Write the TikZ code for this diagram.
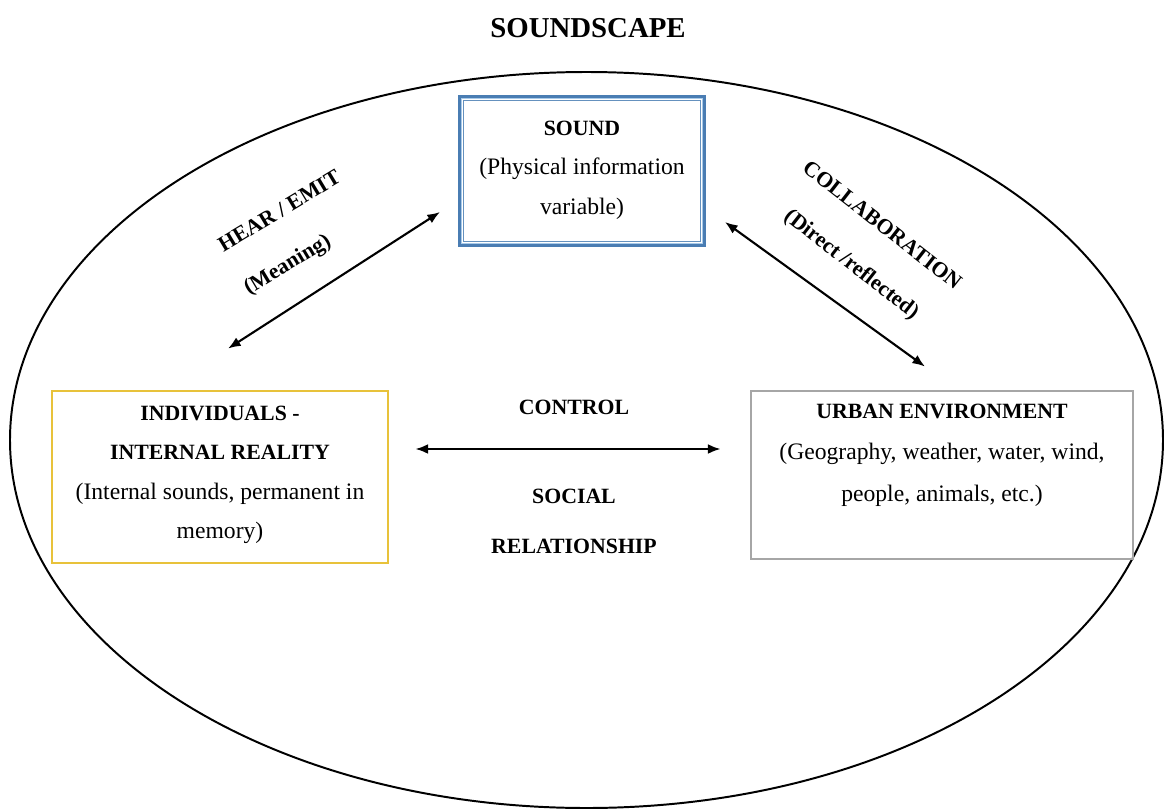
\documentclass[tikz,border=0pt]{standalone}
\usepackage{fontspec}
\setmainfont{Liberation Serif}
\usetikzlibrary{arrows.meta}

\definecolor{soundblue}{HTML}{4A7DB3}
\definecolor{soundpale}{HTML}{A9CBEA}
\definecolor{selfyellow}{HTML}{E8C23A}
\definecolor{urbangrey}{HTML}{A6A6A6}

\tikzset{
  boxtext/.style={align=center, inner sep=0pt,
    font=\fontsize{16.8}{28}\selectfont},
  headtext/.style={align=center, inner sep=0pt,
    font=\fontsize{15.5}{28}\selectfont\bfseries},
  link/.style={{Latex[length=9pt,width=7pt]}-{Latex[length=9pt,width=7pt]},
    line width=1.5pt},
}

\begin{document}
\begin{tikzpicture}[x=0.025cm, y=-0.025cm]

% Geometry: one unit is one pixel of the 1166 x 810 canvas
\def\px{0.025cm}

\useasboundingbox (0,0) rectangle (1166,810);

% ── Title and outer ellipse ─────────────────────────────────────────────
\node[headtext, font=\fontsize{20.5}{22}\selectfont\bfseries] (title) at (588,28) {SOUNDSCAPE};
\draw[line width=1.4pt] (586.5,440) ellipse [x radius=576.5, y radius=368];

% ── The three boxes ─────────────────────────────────────────────────────
\node[draw=soundblue, line width=2.8pt,
      minimum width=244*\px, minimum height=148*\px, inner sep=0pt]
  (sound) at (582,171) {};
% inner pale band and thin rule of the framed box
\draw[soundpale, line width=1.3pt]
  ([shift={(3.5,3.5)}]sound.north west) rectangle ([shift={(-3.5,-3.5)}]sound.south east);
\draw[soundblue!85, line width=0.7pt]
  ([shift={(5,5)}]sound.north west) rectangle ([shift={(-5,-5)}]sound.south east);

\node[draw=selfyellow, line width=2pt,
      minimum width=336*\px, minimum height=172*\px, inner sep=0pt]
  (indiv) at (220,477) {};
\node[draw=urbangrey, line width=2pt,
      minimum width=382*\px, minimum height=168*\px, inner sep=0pt]
  (urban) at (942,475) {};

% Box contents
\node[boxtext] (soundtext) at ([shift={(0,-1)}]sound.center)
  {\textbf{\fontsize{15.5}{28}\selectfont SOUND}\\(Physical information\\variable)};
\node[boxtext] (indivtext) at ([shift={(0,-2)}]indiv.center)
  {{\fontsize{15.5}{28}\selectfont\bfseries INDIVIDUALS -}\\
   {\fontsize{15.5}{28}\selectfont\bfseries INTERNAL REALITY}\\
   (Internal sounds, permanent in\\memory)};
\node[boxtext, anchor=north, font=\fontsize{16.8}{29.5}\selectfont]
  (urbantext) at ([shift={(0,14)}]urban.north)
  {{\fontsize{15.5}{29.5}\selectfont\bfseries URBAN ENVIRONMENT}\\
   (Geography, weather, water, wind,\\people, animals, etc.)};

% ── Arrow end points, set off from the boxes ────────────────────────────
\coordinate (hearS) at ([shift={(-18,41)}]sound.west);
\coordinate (hearI) at ([shift={(8,-41)}]indiv.north);
\coordinate (collS) at ([shift={(19,51)}]sound.east);
\coordinate (collU) at ([shift={(-17,-23)}]urban.north);
\coordinate (ctlI)  at ([shift={(26,-28)}]indiv.east);
\coordinate (ctlU)  at ([shift={(-29,-26)}]urban.west);

\draw[link] (hearI) -- (hearS);
\draw[link] (collS) -- (collU);
\draw[link] (ctlI) -- (ctlU);

% ── Relation labels ─────────────────────────────────────────────────────
\node[headtext, align=left, rotate=31, font=\fontsize{15.5}{35}\selectfont\bfseries]
  (hear) at (293,234) {HEAR / EMIT\\(Meaning)};
\node[headtext, rotate=-38, font=\fontsize{15.5}{35}\selectfont\bfseries]
  (collab) at (866,246) {COLLABORATION\\(Direct /reflected)};
\node[headtext] (control) at (574,407) {CONTROL};
\node[headtext] (social)  at (574,496) {SOCIAL};
\node[headtext] (relship) at (574,546) {RELATIONSHIP};

\end{tikzpicture}
\end{document}
